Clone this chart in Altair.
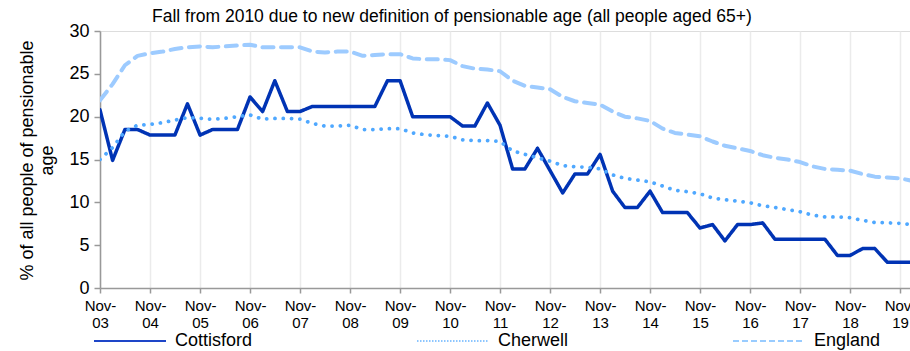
import altair as alt
import pandas as pd

# Quarterly snapshots, Nov-03 through Feb-20
quarters = pd.date_range("2003-11-01", periods=66, freq="3MS").strftime("%Y-%m-%d").tolist()

series_names = ["Cottisford", "Cherwell", "England"]

cottisford = [
    20.8, 14.9, 18.5, 18.5, 17.85, 17.85, 17.85, 21.5, 17.85, 18.5, 18.5, 18.5,
    22.3, 20.6, 24.2, 20.6, 20.6, 21.2, 21.2, 21.2, 21.2, 21.2, 21.2, 24.2,
    24.2, 20.0, 20.0, 20.0, 20.0, 18.9, 18.9, 21.6, 19.0, 13.9, 13.9, 16.3,
    13.7, 11.1, 13.3, 13.3, 15.6, 11.3, 9.4, 9.4, 11.3, 8.8, 8.8, 8.8,
    7.0, 7.4, 5.5, 7.4, 7.4, 7.6, 5.7, 5.7, 5.7, 5.7, 5.7, 3.8,
    3.8, 4.6, 4.6, 3.0, 3.0, 3.0,
]

cherwell = [
    15.0, 16.4, 18.3, 19.0, 19.1, 19.3, 19.6, 19.9, 19.8, 19.7, 19.8, 20.0,
    20.2, 19.7, 19.8, 19.8, 19.7, 19.2, 18.9, 18.9, 19.0, 18.5, 18.5, 18.6,
    18.6, 18.1, 17.9, 17.8, 17.7, 17.3, 17.2, 17.2, 17.1, 16.0, 15.6, 15.2,
    14.8, 14.3, 14.15, 14.1, 13.9, 13.2, 12.8, 12.6, 12.4, 11.9, 11.4, 11.25,
    11.0, 10.5, 10.3, 10.15, 9.95, 9.6, 9.4, 9.15, 8.9, 8.5, 8.3, 8.3,
    8.2, 7.9, 7.65, 7.6, 7.55, 7.4,
]

england = [
    21.9, 23.8, 26.0, 27.1, 27.4, 27.6, 27.9, 28.1, 28.2, 28.1, 28.2, 28.3,
    28.4, 28.1, 28.1, 28.1, 28.1, 27.6, 27.5, 27.6, 27.6, 27.1, 27.2, 27.3,
    27.3, 26.8, 26.7, 26.7, 26.6, 25.9, 25.6, 25.5, 25.3, 24.2, 23.6, 23.4,
    23.2, 22.3, 21.8, 21.6, 21.4, 20.6, 20.0, 19.8, 19.5, 18.6, 18.1, 17.9,
    17.7, 17.1, 16.6, 16.3, 16.0, 15.5, 15.2, 15.0, 14.7, 14.2, 13.9, 13.8,
    13.7, 13.3, 13.0, 12.9, 12.8, 12.5,
]

series_colors = ["#0033B4", "#4FA8FF", "#9DCBFF"]
series_dashes = [[1, 0], [0.1, 8.2], [11, 7.5]]
series_widths = [3.5, 4, 4]

# Legend swatches use finer patterns than the plotted lines
legend_colors = ["#1E46C8", "#8CC6FF", "#99CCFF"]
legend_dashes = [[1, 0], [1.5, 1.5], [6, 3]]

rows = []
for name, values in zip(series_names, [cottisford, cherwell, england]):
    for q, v in zip(quarters, values):
        rows.append({"quarter": q, "series": name, "pct": v})
df = pd.DataFrame(rows)

FONT = "Liberation Sans"

x_ticks = [alt.DateTime(year=y, month=11, date=1, utc=True) for y in range(2003, 2020)]

x_enc = alt.X(
    "quarter:T",
    scale=alt.Scale(
        type="utc",
        domain=[
            alt.DateTime(year=2003, month=11, date=1, utc=True),
            alt.DateTime(year=2020, month=1, date=13, utc=True),
        ],
    ),
    axis=alt.Axis(
        values=x_ticks,
        labelExpr="[utcFormat(datum.value, '%b-'), utcFormat(datum.value, '%y')]",
        labelFontSize=15,
        labelLineHeight=17,
        labelPadding=5,
        labelColor="#000000",
        labelFont=FONT,
        labelAngle=0,
        labelFlush=False,
        labelOverlap=False,
        tickSize=5,
        tickColor="#999999",
        tickWidth=1.5,
        domainColor="#999999",
        domainWidth=1.5,
        grid=True,
        gridColor="#EBEBEB",
        gridWidth=1.5,
        title=None,
    ),
)

y_enc = alt.Y(
    "pct:Q",
    scale=alt.Scale(domain=[0, 30], nice=False),
    axis=alt.Axis(
        values=[0, 5, 10, 15, 20, 25, 30],
        labelFontSize=18,
        labelColor="#000000",
        labelFont=FONT,
        labelPadding=5,
        tickSize=6,
        tickColor="#999999",
        tickWidth=1.5,
        domainColor="#999999",
        domainWidth=1.5,
        grid=False,
        title=["% of all people of pensionable", "age"],
        titleFont=FONT,
        titleFontSize=18,
        titleFontWeight="normal",
        titleColor="#000000",
        titleAngle=-90,
        titleAlign="center",
        titleBaseline="alphabetic",
        titleLineHeight=20,
        titleX=-68,
        titleY=129,
    ),
)

base = alt.Chart(df)

lines = base.mark_line(strokeCap="round", strokeJoin="round", clip=True).encode(
    x=x_enc,
    y=y_enc,
    color=alt.Color(
        "series:N",
        scale=alt.Scale(domain=series_names, range=series_colors),
        sort=series_names,
        legend=None,
    ),
    strokeDash=alt.StrokeDash(
        "series:N",
        scale=alt.Scale(domain=series_names, range=series_dashes),
        sort=series_names,
        legend=None,
    ),
    strokeWidth=alt.StrokeWidth(
        "series:N",
        scale=alt.Scale(domain=series_names, range=series_widths),
        legend=None,
    ),
)

legend_spec = dict(
    title=None,
    orient="none",
    direction="horizontal",
    legendX=-7,
    legendY=273,
    symbolType="stroke",
    symbolSize=5184,
    symbolStrokeWidth=2,
    labelFont=FONT,
    labelFontSize=18,
    labelColor="#000000",
    labelOffset=8,
    columnPadding=160,
    padding=0,
)

# Key layer: draws no marks, only carries the series legend
key = (
    base.transform_filter("false")
    .mark_line()
    .encode(
        x="quarter:T",
        y="pct:Q",
        color=alt.Color(
            "series:N",
            scale=alt.Scale(domain=series_names, range=legend_colors),
            sort=series_names,
            legend=alt.Legend(**legend_spec),
        ),
        strokeDash=alt.StrokeDash(
            "series:N",
            scale=alt.Scale(domain=series_names, range=legend_dashes),
            sort=series_names,
            legend=alt.Legend(**legend_spec),
        ),
    )
)

chart = (
    alt.layer(lines, key)
    .resolve_scale(color="independent", strokeDash="independent")
    .properties(
        width=810,
        height=257,
        title=alt.TitleParams(
            "Fall from 2010 due to new definition of pensionable age (all people aged 65+)",
            font=FONT,
            fontSize=17.5,
            fontWeight="normal",
            color="#000000",
            anchor="start",
            frame="group",
            dx=52,
            offset=-3,
        ),
        autosize=alt.AutoSizeParams(type="none"),
        padding={"left": 100, "top": 31, "right": 0, "bottom": 63},
    )
    .configure_view(stroke=None)
    .configure(background="#FFFFFF")
)

chart.save("out.html", embed_options={"renderer": "svg", "actions": False})
